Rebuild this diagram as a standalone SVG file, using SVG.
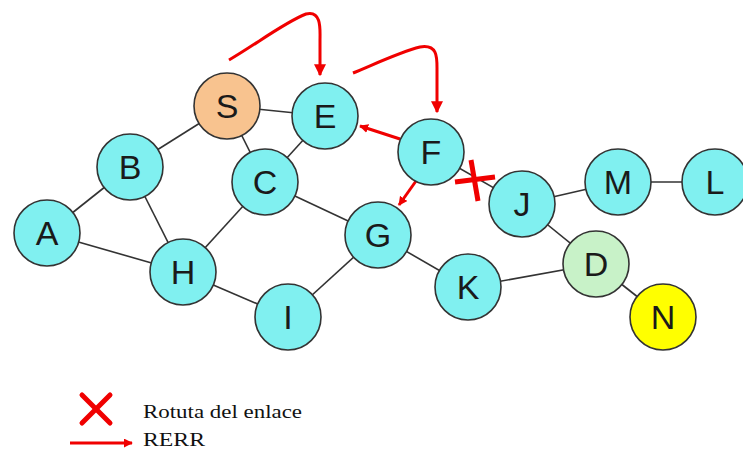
<svg xmlns="http://www.w3.org/2000/svg" width="743" height="450" viewBox="0 0 743 450">
  <style>
    .edge { stroke: #333; stroke-width: 1.6; fill: none; }
    .node circle { stroke: #333; stroke-width: 1.6; fill: #80F0F0; }
    .node text { font-family: "Liberation Sans", Arial, sans-serif; font-size: 34px; fill: #1a1a1a; text-anchor: middle; }
    .rerr { stroke: #F00000; stroke-width: 3; fill: none; }
    .legend { font-family: "Liberation Serif", "Times New Roman", serif; font-size: 19px; fill: #111; }
  </style>
  <defs>
    <marker id="arrowBig" viewBox="0 0 10 10" refX="9" refY="5" markerWidth="4" markerHeight="6" orient="auto" markerUnits="strokeWidth">
      <path d="M0,0 L10,5 L0,10 z" fill="#F00000"/>
    </marker>
    <marker id="arrowSmall" viewBox="0 0 10 10" refX="9" refY="5" markerWidth="3" markerHeight="3" orient="auto" markerUnits="strokeWidth">
      <path d="M0,0 L10,5 L0,10 z" fill="#F00000"/>
    </marker>
  </defs>
  <rect width="743" height="450" fill="#fff"/>

  <!-- links -->
  <g id="connectors">
    <line class="edge" x1="227" y1="106" x2="130" y2="167"/>
    <line class="edge" x1="227" y1="106" x2="325" y2="116"/>
    <line class="edge" x1="227" y1="106" x2="265" y2="182"/>
    <line class="edge" x1="47" y1="233" x2="130" y2="167"/>
    <line class="edge" x1="47" y1="233" x2="183" y2="272"/>
    <line class="edge" x1="130" y1="167" x2="183" y2="272"/>
    <line class="edge" x1="265" y1="182" x2="183" y2="272"/>
    <line class="edge" x1="265" y1="182" x2="325" y2="116"/>
    <line class="edge" x1="265" y1="182" x2="378" y2="235"/>
    <line class="edge" x1="183" y1="272" x2="288" y2="317"/>
    <line class="edge" x1="288" y1="317" x2="378" y2="235"/>
    <line class="edge" x1="378" y1="235" x2="468" y2="287"/>
    <line class="edge" x1="468" y1="287" x2="596" y2="264"/>
    <line class="edge" x1="522" y1="204" x2="596" y2="264"/>
    <line class="edge" x1="522" y1="204" x2="618" y2="182"/>
    <line class="edge" x1="618" y1="182" x2="715" y2="182"/>
    <line class="edge" x1="596" y1="264" x2="663" y2="317"/>
    <line class="edge" x1="431" y1="152" x2="522" y2="204"/>

    <!-- error messages -->
    <line class="rerr" x1="400" y1="139" x2="360" y2="126" marker-end="url(#arrowSmall)"/>
    <line class="rerr" x1="416" y1="181" x2="399" y2="205" marker-end="url(#arrowSmall)"/>
    <path class="rerr" d="M229,60 C255,45 285,22 306,14 C322,10 320,30 320,40 L320,75" marker-end="url(#arrowBig)"/>
    <path class="rerr" d="M353,73 C375,64 400,52 420,47 C438,44 437,58 437,70 L437,112" marker-end="url(#arrowBig)"/>
  </g>

  <g id="node-S" class="node"><circle cx="227" cy="106" r="33" style="fill:#F8C38F"/><text x="227" y="118">S</text></g>
  <g id="node-E" class="node"><circle cx="325" cy="116" r="33"/><text x="325" y="128">E</text></g>
  <g id="node-B" class="node"><circle cx="130" cy="167" r="33"/><text x="130" y="179">B</text></g>
  <g id="node-C" class="node"><circle cx="265" cy="182" r="33"/><text x="265" y="194">C</text></g>
  <g id="node-F" class="node"><circle cx="431" cy="152" r="33"/><text x="431" y="164">F</text></g>
  <g id="node-A" class="node"><circle cx="47" cy="233" r="33"/><text x="47" y="245">A</text></g>
  <g id="node-H" class="node"><circle cx="183" cy="272" r="33"/><text x="183" y="284">H</text></g>
  <g id="node-I" class="node"><circle cx="288" cy="317" r="33"/><text x="288" y="329">I</text></g>
  <g id="node-G" class="node"><circle cx="378" cy="235" r="33"/><text x="378" y="247">G</text></g>
  <g id="node-K" class="node"><circle cx="468" cy="287" r="33"/><text x="468" y="299">K</text></g>
  <g id="node-J" class="node"><circle cx="522" cy="204" r="33"/><text x="522" y="216">J</text></g>
  <g id="node-M" class="node"><circle cx="618" cy="182" r="33"/><text x="618" y="194">M</text></g>
  <g id="node-L" class="node"><circle cx="715" cy="182" r="33"/><text x="715" y="194">L</text></g>
  <g id="node-D" class="node"><circle cx="596" cy="264" r="33" style="fill:#C8F2C8"/><text x="596" y="276">D</text></g>
  <g id="node-N" class="node"><circle cx="663" cy="317" r="33" style="fill:#FFFF00"/><text x="663" y="329">N</text></g>

  <!-- broken link mark on F-J -->
  <g id="break-mark" stroke="#F00000" stroke-width="5" stroke-linecap="butt">
    <line x1="455" y1="182" x2="495" y2="177"/>
    <line x1="471" y1="160" x2="478" y2="201"/>
  </g>

  <!-- legend -->
  <g id="legend">
    <g stroke="#F00000" stroke-width="5" stroke-linecap="round">
      <line x1="82" y1="395" x2="110" y2="423"/>
      <line x1="110" y1="395" x2="82" y2="423"/>
    </g>
    <text class="legend" x="143" y="418" textLength="159" lengthAdjust="spacingAndGlyphs">Rotuta del enlace</text>
    <line class="rerr" x1="70" y1="443" x2="132" y2="443" stroke-width="2" marker-end="url(#arrowSmall)"/>
    <text class="legend" x="143" y="446" textLength="62" lengthAdjust="spacingAndGlyphs">RERR</text>
  </g>
</svg>
